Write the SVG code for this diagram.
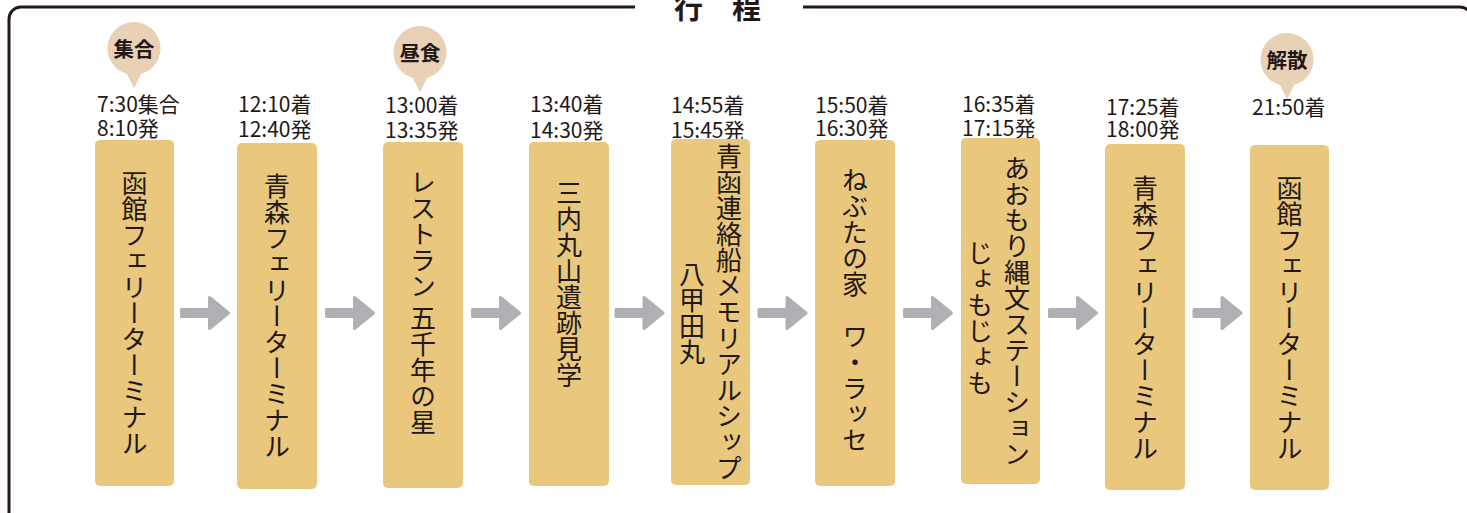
<svg xmlns="http://www.w3.org/2000/svg" width="1467" height="513" viewBox="0 0 1467 513">
  <style>
    .frame { fill: none; stroke: #231815; stroke-width: 3; }
    .title { font-family: "Noto Sans CJK JP", "Noto Sans", sans-serif; font-size: 29px; font-weight: bold; fill: #231815; }
    .box { fill: #e9c77d; }
    .vt { font-family: "Noto Sans CJK JP", sans-serif; font-size: 26px; fill: #231815; writing-mode: vertical-rl; text-anchor: middle; }
    .time { font-family: "Noto Sans CJK JP", sans-serif; font-size: 21px; fill: #231815; }
    .badge { fill: #e9d1b5; }
    .btxt { font-family: "Noto Sans CJK JP", sans-serif; font-size: 20.5px; font-weight: bold; fill: #231815; text-anchor: middle; }
    .arrow { fill: #aeb0b4; stroke: #aeb0b4; stroke-width: 3; stroke-linejoin: round; }
  </style>
  <defs>
    <path id="arr" class="arrow" d="M-23.5,-3.5 H4.5 V-15.5 L23.5,0 L4.5,15.5 V3.5 H-23.5 Z"/>
    <path id="pin" class="badge" d="M-7,24 A26.5,26.5 0 1 1 7,24 L0,38.5 Z"/>
  </defs>

  <g id="frame">
    <path class="frame" d="M635,7 H21 A12,12 0 0 0 9,19 V520"/>
    <path class="frame" d="M803,7 H1460 A12,12 0 0 1 1472,19 V520"/>
    <text class="title" x="674" y="19">行　程</text>
  </g>

  <g id="connectors">
    <use href="#arr" x="205" y="313"/>
    <use href="#arr" x="350" y="313"/>
    <use href="#arr" x="496" y="313"/>
    <use href="#arr" x="639.5" y="313"/>
    <use href="#arr" x="782.5" y="313"/>
    <use href="#arr" x="928" y="313"/>
    <use href="#arr" x="1073" y="313"/>
    <use href="#arr" x="1217.5" y="313"/>
  </g>

  <g id="badge-shugo">
    <use href="#pin" x="134" y="50"/>
    <text class="btxt" x="134" y="57">集合</text>
  </g>
  <g id="badge-chushoku">
    <use href="#pin" x="420" y="54"/>
    <text class="btxt" x="420" y="61">昼食</text>
  </g>
  <g id="badge-kaisan">
    <use href="#pin" x="1287" y="61"/>
    <text class="btxt" x="1287" y="68">解散</text>
  </g>

  <g id="node1">
    <text class="time"><tspan x="97" y="112">7:30集合</tspan><tspan x="97" y="136">8:10発</tspan></text>
    <rect class="box" x="95" y="140" width="79" height="346" rx="5"/>
    <text class="vt" x="134.5" y="313">函館フェリーターミナル</text>
  </g>
  <g id="node2">
    <text class="time"><tspan x="238" y="112">12:10着</tspan><tspan x="238" y="137">12:40発</tspan></text>
    <rect class="box" x="237" y="143" width="80" height="346" rx="5"/>
    <text class="vt" x="277" y="316">青森フェリーターミナル</text>
  </g>
  <g id="node3">
    <text class="time"><tspan x="385" y="112.5">13:00着</tspan><tspan x="385" y="137.5">13:35発</tspan></text>
    <rect class="box" x="383" y="142" width="80" height="346" rx="5"/>
    <text class="vt" x="423" y="302">レストラン 五千年の星</text>
  </g>
  <g id="node4">
    <text class="time"><tspan x="530" y="112">13:40着</tspan><tspan x="530" y="137.5">14:30発</tspan></text>
    <rect class="box" x="529" y="142" width="80" height="344" rx="5"/>
    <text class="vt" x="569" y="284">三内丸山遺跡見学</text>
  </g>
  <g id="node5">
    <text class="time"><tspan x="671" y="113">14:55着</tspan><tspan x="671" y="138">15:45発</tspan></text>
    <rect class="box" x="671" y="139" width="79" height="346" rx="5"/>
    <text class="vt" x="729" y="312">青函連絡船メモリアルシップ</text>
    <text class="vt" x="692" y="313">八甲田丸</text>
  </g>
  <g id="node6">
    <text class="time"><tspan x="815" y="113">15:50着</tspan><tspan x="815" y="135.5">16:30発</tspan></text>
    <rect class="box" x="815" y="140" width="80" height="346" rx="5"/>
    <text class="vt" x="855" y="310">ねぶたの家　ワ・ラッセ</text>
  </g>
  <g id="node7">
    <text class="time"><tspan x="962" y="111.5">16:35着</tspan><tspan x="962" y="136">17:15発</tspan></text>
    <rect class="box" x="961" y="138" width="79" height="346" rx="5"/>
    <text class="vt" x="1017" y="311">あおもり縄文ステーション</text>
    <text class="vt" x="980" y="318">じょもじょも</text>
  </g>
  <g id="node8">
    <text class="time"><tspan x="1106" y="114.5">17:25着</tspan><tspan x="1106" y="136.5">18:00発</tspan></text>
    <rect class="box" x="1105" y="144" width="80" height="346" rx="5"/>
    <text class="vt" x="1145" y="318">青森フェリーターミナル</text>
  </g>
  <g id="node9">
    <text class="time" x="1252" y="115">21:50着</text>
    <rect class="box" x="1250" y="145" width="79" height="345" rx="5"/>
    <text class="vt" x="1289.5" y="318">函館フェリーターミナル</text>
  </g>
</svg>
